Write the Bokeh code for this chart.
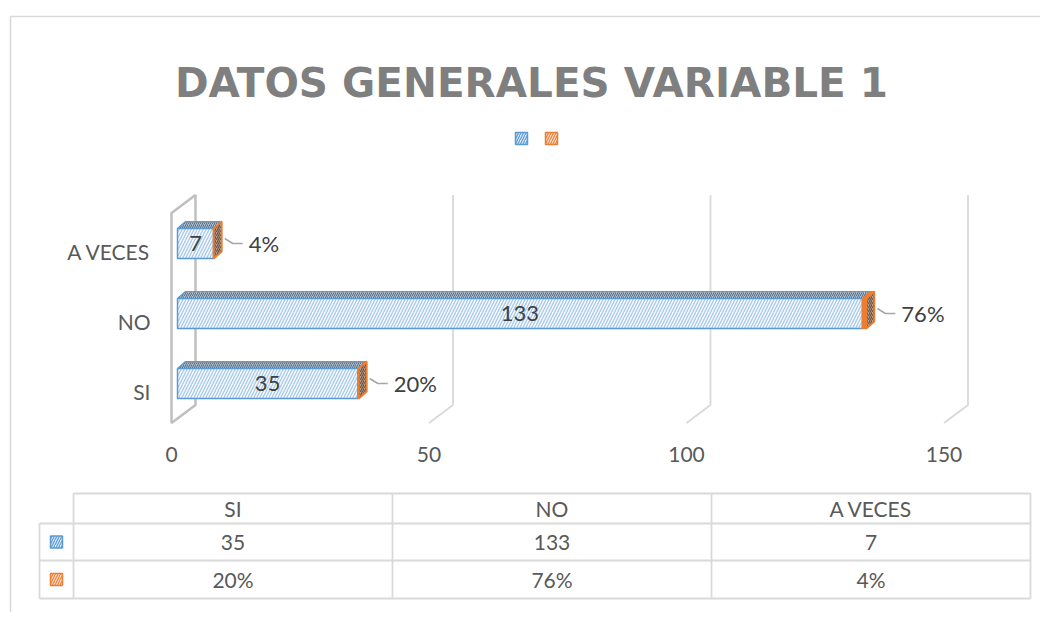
from bokeh.plotting import figure
from bokeh.models import Range1d, ColumnDataSource
from bokeh.embed import file_html
from bokeh.resources import INLINE
from bokeh.core.properties import value

# ---------------- data ----------------
categories = ["SI", "NO", "A VECES"]
counts = [35, 133, 7]
percents = [20, 76, 4]
pct_labels = ["20%", "76%", "4%"]
ticks = [0, 50, 100, 150]
tick_labels = ["0", "50", "100", "150"]
title_text = "DATOS GENERALES VARIABLE 1"

# ---------------- style ----------------
FONT = "Lato"
TXT = "#595959"
BLUE = "#5B9BD5"
ORANGE = "#ED7D31"
GRID = "#D9D9D9"
WALL = "#BFBFBF"

W, H = 1040, 612
XPX = 5.15      # pixels per value unit
YPX = 70.0      # pixels per category step
x_start = -171 / XPX
y_start = -(H - 387.5) / YPX

p = figure(width=W, height=H, output_backend="svg", toolbar_location=None,
           x_range=Range1d(x_start, x_start + W / XPX),
           y_range=Range1d(y_start, y_start + H / YPX),
           x_axis_type=None, y_axis_type=None, min_border=0)
p.extra_x_ranges = {"px": Range1d(0, W)}
p.extra_y_ranges = {"py": Range1d(H, 0)}
p.grid.visible = False
p.outline_line_color = None
p.background_fill_color = "white"
p.border_fill_color = "white"

# 3D projection helpers (pixel offsets converted into data units)
DXW, DYW = 24 / XPX, 18 / YPX          # wall depth
BDX, BDY = 8 / XPX, 7 / YPX            # bar depth
D0 = 0.25                              # depth position of bar front
HH = 15 / YPX                          # bar half height
cy = list(range(len(categories)))      # category positions

def px(v, d):
    return v + d * DXW

def py(c, d):
    return c + d * DYW

# outer chart frame (partially visible)
p.line([10, 10, W], [H, 16, 16], x_range_name="px", y_range_name="py",
       line_color=GRID, line_width=1.5)

# title
p.text(x=[531], y=[82], text=[title_text], x_range_name="px", y_range_name="py",
       text_font=value("DejaVu Sans"), text_font_style="bold", text_font_size="40.5px",
       text_color="#7F7F7F", text_align="center", text_baseline="alphabetic")

# legend keys (no text)
p.rect(x=[521, 551], y=[138, 138], width=12, height=12,
       x_range_name="px", y_range_name="py",
       fill_color=["#DDEBF7", "#FBE5D6"], line_color=[BLUE, ORANGE], line_width=1.5,
       hatch_pattern="/", hatch_color=[BLUE, ORANGE], hatch_scale=5, hatch_weight=1.2)

c_lo, c_hi = -0.5, len(categories) - 0.5

# back-wall gridlines and floor lines
for t in ticks[1:]:
    p.line([px(t, 1), px(t, 1), px(t, 0)], [py(c_hi, 1), py(c_lo, 1), py(c_lo, 0)],
           line_color=GRID, line_width=1.8)

# left wall
p.patch([px(0, 0), px(0, 0), px(0, 1), px(0, 1)],
        [py(c_lo, 0), py(c_hi, 0), py(c_hi, 1), py(c_lo, 1)],
        fill_alpha=0, line_color=WALL, line_width=2.5)

# x tick labels on the front edge
p.text(x=[px(t, 0) for t in ticks], y=[py(c_lo, 0)] * len(ticks), text=tick_labels,
       y_offset=31, text_font=value(FONT), text_font_size="21px", text_color=TXT,
       text_align="center", text_baseline="middle")

# category labels
p.text(x=[0] * len(categories), y=cy, text=categories, x_offset=-21, y_offset=3,
       text_font=value(FONT), text_font_size="21px", text_color=TXT,
       text_align="right", text_baseline="middle")

# bars
fracs = [q / 100 for q in percents]
bot = [c - HH + D0 * DYW for c in cy]
top = [c + HH + D0 * DYW for c in cy]
left = [px(0, D0)] * len(cy)
right = [px(v, D0) for v in counts]
oright = [px(v + f, D0) for v, f in zip(counts, fracs)]

# blue top face
p.patches([[l, r, r + BDX, l + BDX] for l, r in zip(left, right)],
          [[t, t, t + BDY, t + BDY] for t in top],
          fill_color="#A9BCD0", line_color=BLUE, line_width=1.2,
          hatch_pattern="/", hatch_color="#5E6E80", hatch_scale=4, hatch_weight=1)
# blue front face
p.quad(left=left, right=right, bottom=bot, top=top,
       fill_color="#F7FAFD", line_color=BLUE, line_width=1.5,
       hatch_pattern="/", hatch_color="#A7C9EA", hatch_scale=6, hatch_weight=1.3)
# orange front sliver + top
p.quad(left=right, right=oright, bottom=bot, top=top,
       fill_color=ORANGE, line_color=ORANGE, line_width=1.5)
p.patches([[r, o, o + BDX, r + BDX] for r, o in zip(right, oright)],
          [[t, t, t + BDY, t + BDY] for t in top],
          fill_color=ORANGE, line_color=ORANGE, line_width=1.2)
# orange side face
p.patches([[o, o, o + BDX, o + BDX] for o in oright],
          [[b, t, t + BDY, b + BDY] for b, t in zip(bot, top)],
          fill_color="#B8A493", line_color=ORANGE, line_width=1.8,
          hatch_pattern="/", hatch_color="#6E5140", hatch_scale=4, hatch_weight=1.2)

# value labels inside bars
ymid = [py(c, D0) for c in cy]
p.text(x=[px(v / 2, D0) for v in counts], y=ymid, text=[str(v) for v in counts],
       text_font=value(FONT), text_font_size="22px", text_color="#404040",
       text_align="center", text_baseline="middle")

# percentage labels with leader lines
for o, y in zip(oright, ymid):
    p.line([o + 11 / XPX, o + 19 / XPX, o + 29 / XPX], [y + 5 / YPX, y, y],
           line_color="#A6A6A6", line_width=1.5)
p.text(x=oright, y=ymid, text=pct_labels, x_offset=35,
       text_font=value(FONT), text_font_size="22px", text_color="#404040",
       text_align="left", text_baseline="middle")

# ---------------- data table ----------------
TX0, TX1 = 39, 73            # legend-key column
COLW = 319
TXE = TX1 + COLW * len(categories)
TY = [493, 523, 560, 598]    # row boundaries
p.multi_line(
    [[TX1, TXE], [TX0, TXE], [TX0, TXE], [TX0, TXE],
     [TX0, TX0]] + [[TX1 + COLW * k, TX1 + COLW * k] for k in range(len(categories) + 1)],
    [[TY[0], TY[0]], [TY[1], TY[1]], [TY[2], TY[2]], [TY[3], TY[3]],
     [TY[1], TY[3]]] + [[TY[0], TY[3]]] * (len(categories) + 1),
    x_range_name="px", y_range_name="py", line_color=GRID, line_width=1.8)

col_centers = [TX1 + COLW * (i + 0.5) for i in range(len(categories))]
row_mid = [(TY[k] + TY[k + 1]) / 2 for k in range(3)]
tsrc = ColumnDataSource(dict(
    x=col_centers * 3,
    y=[row_mid[0]] * 3 + [row_mid[1]] * 3 + [row_mid[2]] * 3,
    t=categories + [str(v) for v in counts] + pct_labels))
p.text(x="x", y="y", text="t", source=tsrc, x_range_name="px", y_range_name="py",
       text_font=value(FONT), text_font_size="21px", text_color=TXT,
       text_align="center", text_baseline="middle")
p.rect(x=[(TX0 + TX1) / 2] * 2, y=row_mid[1:], width=12, height=12,
       x_range_name="px", y_range_name="py",
       fill_color=["#DDEBF7", "#FBE5D6"], line_color=[BLUE, ORANGE], line_width=1.5,
       hatch_pattern="/", hatch_color=[BLUE, ORANGE], hatch_scale=5, hatch_weight=1.2)

open("out.html", "w").write(file_html(p, INLINE))
